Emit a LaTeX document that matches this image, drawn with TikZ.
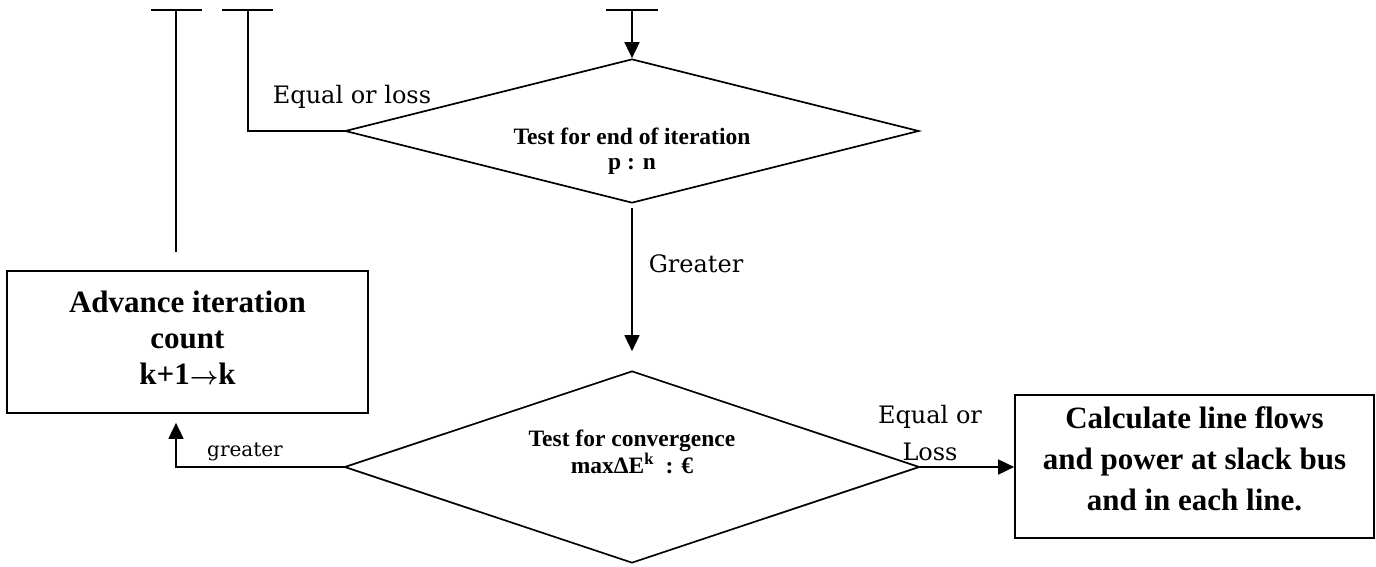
\documentclass[tikz,border=0pt]{standalone}
\usepackage{fontspec}
\setmainfont{Liberation Serif}
\newfontfamily\lblfont{DejaVu Serif}
\usetikzlibrary{arrows.meta,shapes.geometric}
\tikzset{
  ln/.style={line width=1.7pt, line cap=rect},
  arr/.style={ln, -{Triangle[length=16pt,width=15pt]}},
  boxn/.style={draw, line width=1.7pt, inner sep=0pt},
  btext/.style={align=center, font=\bfseries\fontsize{31}{36}\selectfont},
  dia/.style={draw, diamond, line width=1.7pt, inner sep=0pt},
  dtext/.style={align=center, font=\bfseries\fontsize{23.5}{25}\selectfont},
  lbl/.style={align=center, font=\lblfont\fontsize{24}{37}\selectfont},
  slbl/.style={font=\lblfont\fontsize{20}{24}\selectfont}
}
\begin{document}
\begin{tikzpicture}[x=1pt,y=-1pt]
\useasboundingbox (0,0) rectangle (1376,567);
% nodes
\node[dia, minimum width=574pt, minimum height=144pt] (d1) at (632,131) {};
\node[dtext] (d1t) at (632,151) {Test for end of iteration\\p : n};
\node[dia, minimum width=575pt, minimum height=192pt] (d2) at (632,467) {};
\node[dtext] (d2t) at (632,452) {Test for convergence\\maxΔE\textsuperscript{k}\ \ : €};
\node[boxn, minimum width=361pt, minimum height=142pt] (b1) at (187.5,342) {};
\node[btext] (b1t) at (187.5,338) {Advance iteration\\count\\k+1{\boldmath$\rightarrow$}k};
\node[boxn, minimum width=359pt, minimum height=143pt] (b2) at (1194.5,466.5) {};
\node[btext, font=\bfseries\fontsize{31}{41}\selectfont] (b2t) at (1194.5,459)
  {Calculate line flows\\and power at slack bus\\and in each line.};
% labels
\node[lbl] (l1) at (352,97) {Equal or loss};
\node[lbl] (l2) at (696,264) {Greater};
\node[slbl] (l3) at (245,452) {greater};
\node[lbl] (l4) at (930,433) {Equal or\\Loss};
% T stubs
\coordinate (t1a) at (152,10); \coordinate (t1b) at (201,10);
\coordinate (t1) at (176,10); \coordinate (e1) at (176,251);
\coordinate (t2a) at (223,10); \coordinate (t2b) at (272,10);
\coordinate (t2) at (248,10);
\coordinate (t3a) at (607,10); \coordinate (t3b) at (657,10);
\coordinate (t3) at (632,10);
\draw[ln] (t1a) -- (t1b);
\draw[ln] (t1) -- (e1);
\draw[ln] (t2a) -- (t2b);
\draw[ln] (t2) |- (d1.west);
\draw[ln] (t3a) -- (t3b);
\draw[arr] (t3) -- (d1.north);
% connectors
\draw[arr, shorten <=5pt, shorten >=19pt] (d1.south) -- (d2.north);
\draw[arr, shorten >=9pt] (d2.west) -| (b1.south -| e1);
\draw[arr] (d2.east) -- (b2.west |- d2.east);
\end{tikzpicture}
\end{document}
